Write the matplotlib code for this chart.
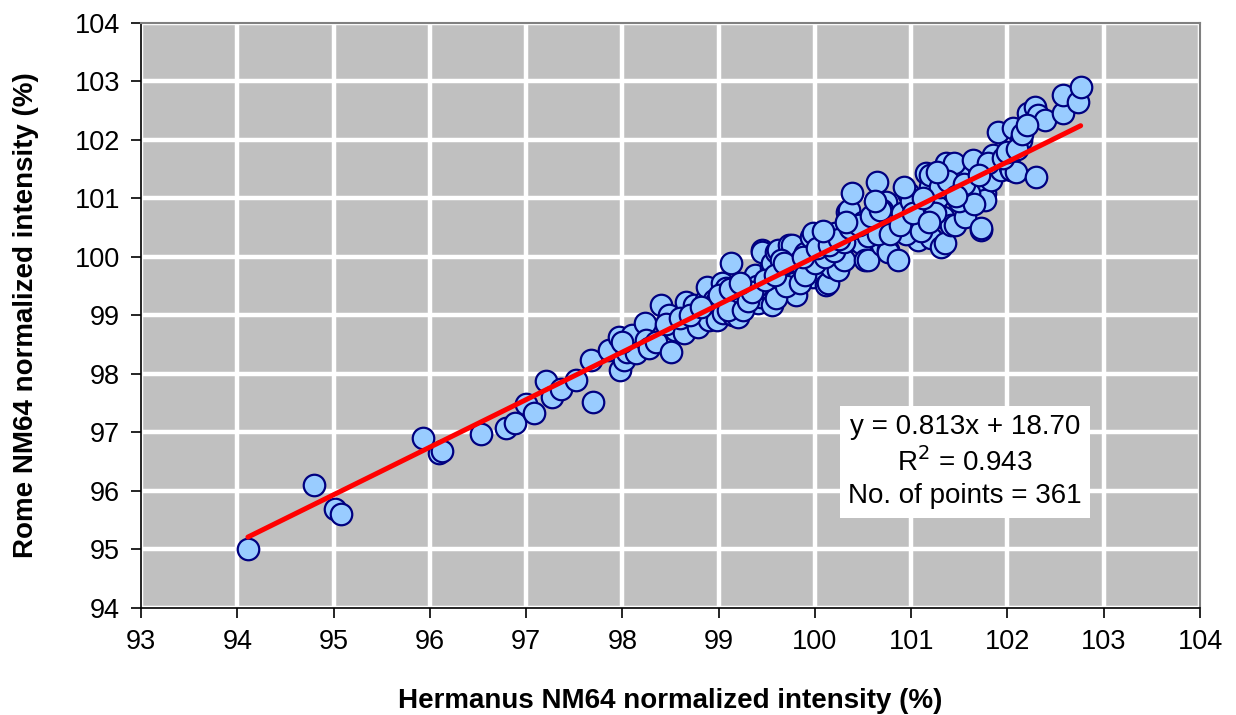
import matplotlib
matplotlib.use("Agg")
import matplotlib.pyplot as plt
import numpy as np

plt.rcParams['font.family'] = ['Liberation Sans', 'DejaVu Sans']

hermanus = [
    94.11, 94.80, 95.02, 95.08, 95.93, 96.10, 96.13, 96.53, 96.79, 96.88,
    97.00, 97.08, 97.21, 97.27, 97.36, 97.52, 97.67, 97.69,
    97.86, 97.96, 97.98, 98.02, 98.05, 98.10, 98.14, 98.00, 98.24, 98.25,
    98.28, 98.35, 98.40, 98.48, 98.50, 98.55, 98.45, 98.64, 98.66, 98.60,
    98.74, 98.79, 98.79, 98.87, 98.87, 98.88, 98.90, 98.95, 98.97, 98.98,
    99.02, 99.03, 99.05, 99.08, 99.13, 99.15, 99.20, 99.18, 99.24, 99.29,
    99.34, 99.38, 99.38, 99.41, 99.44, 99.45, 99.45, 99.50, 99.54, 99.54,
    99.55, 99.55, 99.60, 99.62, 99.65, 99.70, 99.73, 99.76, 99.78, 99.80,
    99.83, 99.90, 99.91, 99.93, 99.96, 99.98, 99.98, 100.05, 100.07, 100.11,
    100.12, 100.14, 100.17, 100.19, 100.21, 100.24, 100.27, 100.30, 100.33, 100.35,
    100.38, 100.42, 100.45, 100.48, 100.52, 100.55, 100.60, 100.64, 100.66, 100.70,
    100.74, 100.76, 100.76, 100.83, 100.86, 100.97, 100.99, 101.04, 101.07, 101.15,
    101.20, 101.20, 101.23, 101.21, 101.28, 101.31, 101.33, 101.35, 101.36, 101.41,
    101.41, 101.45, 101.49, 101.44, 101.56, 101.64, 101.72, 101.72, 101.73, 101.77,
    101.77, 101.83, 101.85, 101.90, 101.93, 102.03, 102.04, 102.06, 102.09, 102.14,
    102.21, 102.29, 102.32, 102.30, 102.39, 102.58, 102.58, 102.73, 102.76,
    99.00, 99.10, 99.25, 99.30, 99.40, 99.60, 99.65, 99.70, 99.85, 99.90,
    100.00, 100.10, 100.20, 100.30, 100.40, 100.50, 100.55, 100.65, 100.70, 100.80,
    100.90, 100.95, 101.00, 101.10, 101.10, 101.25, 101.30, 101.50, 101.60, 101.65,
    101.80, 101.95, 102.00, 102.10, 102.15, 102.20,
    99.35, 99.48, 99.58, 99.68, 99.88, 100.02, 100.15, 100.25, 100.36, 100.46,
    100.58, 100.68, 100.78, 100.88, 101.02, 101.12, 101.18, 101.38, 101.55, 101.70,
    98.70, 98.82, 99.12, 99.22, 100.08, 100.32, 100.62, 100.92, 101.27, 101.47,
]
rome = [
    95.01, 96.10, 95.70, 95.60, 96.90, 96.65, 96.68, 96.98, 97.08, 97.17,
    97.48, 97.33, 97.88, 97.60, 97.75, 97.90, 98.24, 97.52,
    98.41, 98.63, 98.07, 98.24, 98.38, 98.67, 98.36, 98.55, 98.87, 98.58,
    98.45, 98.55, 99.18, 99.01, 98.38, 98.75, 98.85, 98.70, 99.23, 98.95,
    99.18, 98.97, 98.80, 99.26, 99.09, 99.49, 98.92, 99.26, 99.23, 98.92,
    99.15, 99.56, 99.04, 99.47, 99.90, 99.00, 98.97, 99.30, 99.32, 99.56,
    99.49, 99.66, 99.69, 99.21, 99.32, 100.12, 100.09, 99.45, 99.44, 99.83,
    99.90, 99.18, 100.09, 100.12, 99.57, 99.75, 100.21, 100.21, 99.56, 99.35,
    99.91, 100.07, 99.90, 99.78, 100.34, 100.41, 99.66, 100.05, 100.17, 100.24,
    99.52, 99.56, 99.83, 100.29, 100.41, 99.78, 100.12, 99.95, 100.77, 100.80,
    101.09, 100.34, 100.32, 100.24, 99.95, 99.95, 100.45, 101.28, 100.63, 100.20,
    100.94, 100.12, 100.09, 100.51, 99.95, 101.09, 100.85, 100.63, 100.29, 101.44,
    101.20, 101.40, 100.92, 100.32, 101.03, 100.17, 100.68, 100.24, 101.60, 101.15,
    100.55, 100.55, 101.44, 101.60, 100.68, 101.66, 100.46, 100.50, 101.26, 101.09,
    100.97, 101.32, 101.74, 102.14, 101.49, 101.54, 101.49, 102.20, 101.46, 102.00,
    102.46, 102.56, 102.43, 101.37, 102.34, 102.46, 102.77, 102.65, 102.91,
    99.35, 99.10, 99.10, 99.25, 99.50, 99.30, 99.95, 99.50, 99.55, 99.70,
    99.90, 100.00, 100.10, 100.25, 100.50, 100.60, 100.35, 100.40, 100.80, 100.65,
    100.75, 100.40, 100.95, 100.70, 100.45, 100.75, 101.20, 100.95, 101.10, 100.90,
    101.60, 101.70, 101.80, 101.85, 102.10, 102.25,
    99.40, 99.60, 99.70, 99.90, 100.00, 100.15, 100.20, 100.30, 100.50, 100.55,
    100.70, 100.80, 100.40, 100.55, 100.75, 101.00, 100.60, 101.30, 101.25, 101.40,
    99.00, 99.15, 99.45, 99.55, 100.45, 100.60, 100.95, 101.20, 101.45, 101.05,
]

slope = 0.813
intercept = 18.70
r_squared = 0.943
n_points = 361

x_ticks = [93, 94, 95, 96, 97, 98, 99, 100, 101, 102, 103, 104]
y_ticks = [94, 95, 96, 97, 98, 99, 100, 101, 102, 103, 104]

fig = plt.figure(figsize=(12.36, 7.15), dpi=100)
ax = fig.add_axes([0.1141, 0.1497, 0.8568, 0.8182])
ax.set_facecolor('#C0C0C0')
ax.set_xlim(93, 104)
ax.set_ylim(94, 104)
ax.set_xticks(x_ticks)
ax.set_yticks(y_ticks)
ax.grid(True, color='white', linewidth=3.2, zorder=0)
ax.set_axisbelow(True)

for s in ['top', 'right']:
    ax.spines[s].set_color('#808080')
    ax.spines[s].set_linewidth(1.5)
for s in ['left', 'bottom']:
    ax.spines[s].set_color('black')
    ax.spines[s].set_linewidth(1.2)

ax.tick_params(axis='both', labelsize=19.5, direction='out', length=7, width=1.2, colors='black', pad=8)

ax.scatter(hermanus, rome, s=240, facecolor='#99CCFF', edgecolor='#000080', linewidth=1.6, zorder=3)

xf = np.array([min(hermanus), max(hermanus)])
ax.plot(xf, slope * xf + intercept, color='#FF0000', linewidth=3.6, zorder=4, solid_capstyle='round')

txt = f"y = {slope:.3f}x + {intercept:.2f}\nR$^2$ = {r_squared:.3f}\nNo. of points = {n_points}"
ax.text(0.778, 0.25, txt, transform=ax.transAxes, ha='center', va='center', fontsize=20,
        linespacing=1.3, zorder=5,
        bbox=dict(boxstyle='square,pad=0.3', facecolor='white', edgecolor='none'))

ax.set_xlabel('Hermanus NM64 normalized intensity (%)', fontsize=20, fontweight='bold', labelpad=24)
ax.set_ylabel('Rome NM64 normalized intensity (%)', fontsize=20, fontweight='bold', labelpad=26)

fig.savefig('out.png', dpi=100)
